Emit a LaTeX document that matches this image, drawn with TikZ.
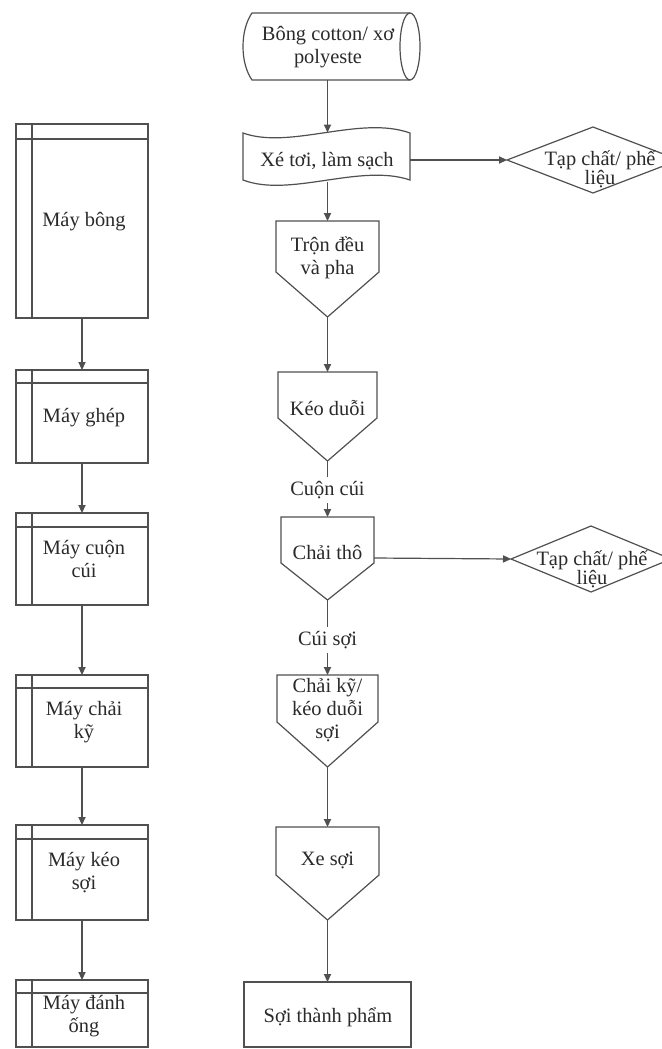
\documentclass[tikz,border=0pt]{standalone}
\usepackage{fontspec}
\setmainfont{Liberation Serif}
\usetikzlibrary{arrows.meta,calc}
\definecolor{ln}{HTML}{505050}
\definecolor{tx}{HTML}{2A2A2A}
\tikzset{
  shp/.style={draw=ln, line width=0.6pt, line join=miter},
  conn/.style={draw=ln, line width=0.6pt, -{Triangle[length=4pt,width=3.6pt]}},
  plain/.style={draw=ln, line width=0.6pt},
  txt/.style={text=tx, font=\fontsize{10.2}{11.5}\selectfont, align=center, inner sep=1pt},
  dtxt/.style={text=tx, font=\fontsize{10.2}{9.5}\selectfont, align=center, inner sep=1pt},
  lbl/.style={txt, fill=white, inner sep=2pt},
}
\newcommand\machine[6]{% name, top, bottom, header, text y, text
  \draw[shp] (16,#2) rectangle (148,#3);
  \draw[shp] (16,#4) -- (148,#4);
  \draw[shp] (32,#2) -- (32,#3);
  \coordinate (#1-n) at (82,#2);
  \coordinate (#1-s) at (82,#3);
  \node[txt] (#1) at (84,#5) {#6};
}
\newcommand\pent[8]{% name, left, right, top, side, point, text y, text
  \draw[shp] (#2,#4) -- (#3,#4) -- (#3,#5) -- ({(#2+#3)/2},#6) -- (#2,#5) -- cycle;
  \coordinate (#1-n) at ({(#2+#3)/2},#4);
  \coordinate (#1-s) at ({(#2+#3)/2},#6);
  \node[txt] (#1) at ({(#2+#3)/2},#7) {#8};
}
\begin{document}
\begin{tikzpicture}[x=0.5pt,y=-0.5pt]
\useasboundingbox[fill=white] (0,0) rectangle (662,1049);
\clip (0,0) rectangle (662,1049);

% ---------- left column: machines ----------
\machine{mb}{124}{318}{139}{222}{Máy bông}
\machine{mg}{370}{463}{383}{418}{Máy ghép}
\machine{mc}{513}{605}{527}{559}{Máy cuộn\\cúi}
\machine{mk}{675}{767}{688}{722}{Máy chải\\kỹ}
\machine{ms}{825}{920}{839}{873}{Máy kéo\\sợi}
\machine{md}{980}{1047}{993}{1016}{Máy đánh\\ống}

\draw[conn] (mb-s) -- (mg-n);
\draw[conn] (mg-s) -- (mc-n);
\draw[conn] (mc-s) -- (mk-n);
\draw[conn] (mk-s) -- (ms-n);
\draw[conn] (ms-s) -- (md-n);

% ---------- right column: process ----------
% cylinder (raw material)
\draw[shp] (410,13) -- (252,13) .. controls (240,30) and (240,63) .. (252,80) -- (410,80);
\draw[shp] (410,46.5) ellipse [x radius=5pt, y radius=16.75pt];
\coordinate (cy-s) at (327.5,80);
\node[txt] (cy) at (328,47) {Bông cotton/ xơ\\polyeste};

% punched tape
\draw[shp] (243,133) .. controls (290,150) and (360,115) .. (410,133)
  -- (410,180) .. controls (360,163) and (290,198) .. (243,180) -- cycle;
\coordinate (wt-n) at (327.5,132.5);
\coordinate (wt-s) at (327.5,181.5);
\coordinate (wt-e) at (410,160);
\node[txt] (wt) at (327,161) {Xé tơi, làm sạch};

% waste diamond 1
\draw[shp] (507,160) -- (593,127) -- (679,160) -- (593,193) -- cycle;
\coordinate (d1-w) at (507,160);
\node[dtxt] (d1) at (600,169) {Tạp chất/ phế\\liệu};

\pent{p1}{276}{379}{221}{272}{317}{258}{Trộn đều\\và pha}
\pent{p2}{278}{377}{372}{418}{461}{408}{Kéo duỗi}
\pent{p3}{281}{374}{517}{563}{600}{552}{Chải thô}
\pent{p4}{277}{378}{675}{722}{767}{710}{Chải kỹ/\\kéo duỗi\\sợi}
\pent{p5}{276}{379}{827}{875}{920}{860}{Xe sợi}
\coordinate (p3-e) at (374,558);

% waste diamond 2
\draw[shp] (511,559) -- (591,526) -- (671,559) -- (591,592) -- cycle;
\coordinate (d2-w) at (511,559);
\node[dtxt] (d2) at (592,569) {Tạp chất/ phế\\liệu};

% finished product
\draw[shp] (244,982) rectangle (411,1047);
\coordinate (r-n) at (327.5,982);
\node[txt] (r) at (328,1017) {Sợi thành phẩm};

% labels on connectors
\node[lbl] (l1) at (327.5,490) {Cuộn cúi};
\node[lbl] (l2) at (327.5,640) {Cúi sợi};

% connectors
\draw[conn] (cy-s) -- (wt-n);
\draw[conn] (wt-s) -- (p1-n);
\draw[conn] (wt-e) -- (d1-w);
\draw[conn] (p1-s) -- (p2-n);
\draw[plain] (p2-s) -- (l1);
\draw[conn] (l1) -- (p3-n);
\draw[conn] (p3-e) -- (d2-w);
\draw[plain] (p3-s) -- (l2);
\draw[conn] (l2) -- (p4-n);
\draw[conn] (p4-s) -- (p5-n);
\draw[conn] (p5-s) -- (r-n);
\end{tikzpicture}
\end{document}
